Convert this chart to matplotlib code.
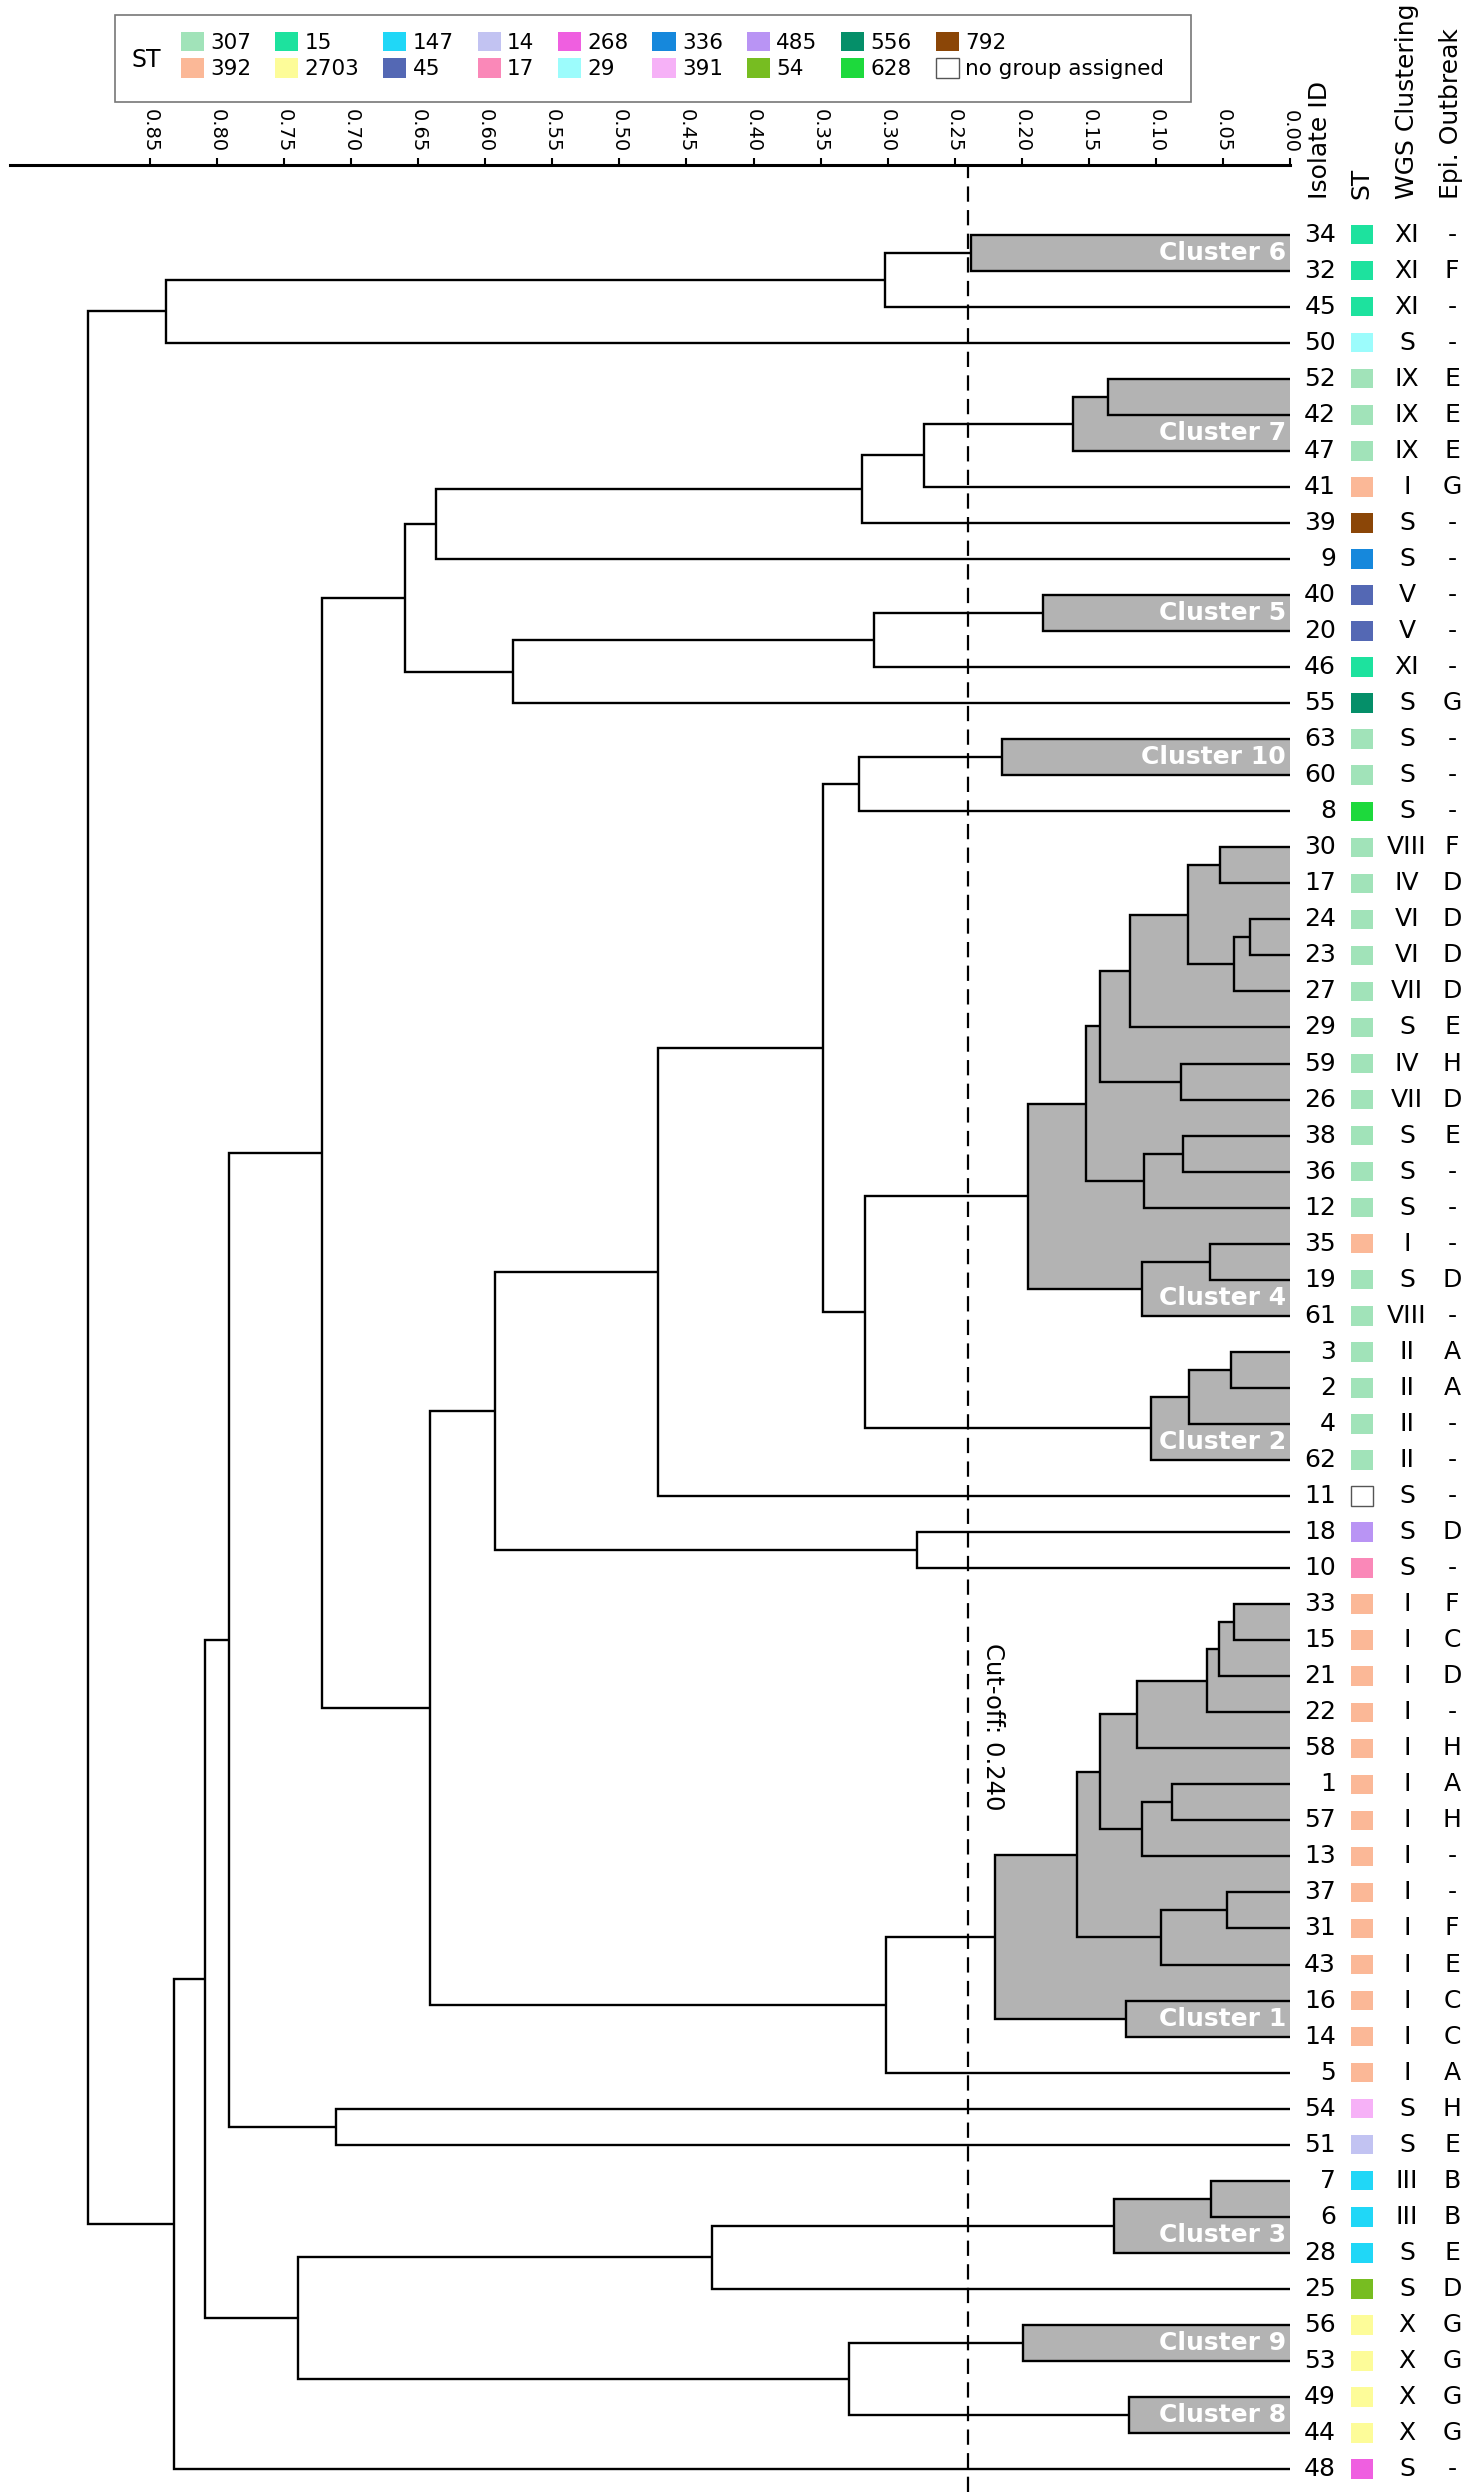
"""
WGS 聚类树状图（带ST、WGS分组与流行病学暴发标注）
"""

import numpy as np
import matplotlib.pyplot as plt
from matplotlib.patches import Rectangle, Patch

plt.rcParams['font.family'] = ['DejaVu Sans']
plt.rcParams['lines.scale_dashes'] = False

# 叶节点（从上到下）
isolate_ids = ['34', '32', '45', '50', '52', '42', '47', '41', '39', '9', '40', '20', '46', '55',
               '63', '60', '8', '30', '17', '24', '23', '27', '29', '59', '26', '38', '36', '12',
               '35', '19', '61', '3', '2', '4', '62', '11', '18', '10', '33', '15', '21', '22',
               '58', '1', '57', '13', '37', '31', '43', '16', '14', '5', '54', '51', '7', '6',
               '28', '25', '56', '53', '49', '44', '48']
st_types = ['15', '15', '15', '29', '307', '307', '307', '392', '792', '336', '45', '45', '15', '556',
            '307', '307', '628', '307', '307', '307', '307', '307', '307', '307', '307', '307', '307', '307',
            '392', '307', '307', '307', '307', '307', '307', 'none', '485', '17', '392', '392', '392', '392',
            '392', '392', '392', '392', '392', '392', '392', '392', '392', '392', '391', '14', '147', '147',
            '147', '54', '2703', '2703', '2703', '2703', '268']
wgs_groups = ['XI', 'XI', 'XI', 'S', 'IX', 'IX', 'IX', 'I', 'S', 'S', 'V', 'V', 'XI', 'S',
              'S', 'S', 'S', 'VIII', 'IV', 'VI', 'VI', 'VII', 'S', 'IV', 'VII', 'S', 'S', 'S',
              'I', 'S', 'VIII', 'II', 'II', 'II', 'II', 'S', 'S', 'S', 'I', 'I', 'I', 'I',
              'I', 'I', 'I', 'I', 'I', 'I', 'I', 'I', 'I', 'I', 'S', 'S', 'III', 'III',
              'S', 'S', 'X', 'X', 'X', 'X', 'S']
epi_outbreaks = ['-', 'F', '-', '-', 'E', 'E', 'E', 'G', '-', '-', '-', '-', '-', 'G',
                 '-', '-', '-', 'F', 'D', 'D', 'D', 'D', 'E', 'H', 'D', 'E', '-', '-',
                 '-', 'D', '-', 'A', 'A', '-', '-', '-', 'D', '-', 'F', 'C', 'D', '-',
                 'H', 'A', 'H', '-', '-', 'F', 'E', 'C', 'C', 'A', 'H', 'E', 'B', 'B',
                 'E', 'D', 'G', 'G', 'G', 'G', '-']

# 合并记录: (节点名, 上子节点, 下子节点, 距离)
merges = [
    ('c6', '34', '32', 0.238), ('n2', 'c6', '45', 0.302), ('n3', 'n2', '50', 0.838),
    ('c7a', '52', '42', 0.136), ('c7', 'c7a', '47', 0.162), ('n4', 'c7', '41', 0.273),
    ('n5', 'n4', '39', 0.319), ('n6', 'n5', '9', 0.637),
    ('c5', '40', '20', 0.184), ('n7', 'c5', '46', 0.310), ('n8', 'n7', '55', 0.579),
    ('n9', 'n6', 'n8', 0.660),
    ('c10', '63', '60', 0.215), ('n10', 'c10', '8', 0.321),
    ('a1', '30', '17', 0.052), ('a2', '24', '23', 0.030), ('a3', 'a2', '27', 0.042),
    ('a4', 'a1', 'a3', 0.076), ('a5', 'a4', '29', 0.119), ('a6', '59', '26', 0.081),
    ('a7', 'a5', 'a6', 0.142), ('a8', '38', '36', 0.080), ('a9', 'a8', '12', 0.109),
    ('a10', 'a7', 'a9', 0.152), ('a11', '35', '19', 0.060), ('a12', 'a11', '61', 0.110),
    ('c4', 'a10', 'a12', 0.195),
    ('b1', '3', '2', 0.044), ('b2', 'b1', '4', 0.075), ('c2', 'b2', '62', 0.104),
    ('n11', 'c4', 'c2', 0.317), ('n12', 'n10', 'n11', 0.348), ('n13', 'n12', '11', 0.471),
    ('d1', '18', '10', 0.278), ('n14', 'n13', 'd1', 0.593),
    ('e1', '33', '15', 0.042), ('e2', 'e1', '21', 0.053), ('e3', 'e2', '22', 0.062),
    ('e4', 'e3', '58', 0.114), ('e5', '1', '57', 0.088), ('e6', 'e5', '13', 0.110),
    ('e7', 'e4', 'e6', 0.142), ('e8', '37', '31', 0.047), ('e9', 'e8', '43', 0.096),
    ('e10', 'e7', 'e9', 0.159), ('e11', '16', '14', 0.122), ('c1', 'e10', 'e11', 0.220),
    ('n15', 'c1', '5', 0.301), ('n16', 'n14', 'n15', 0.641), ('n17', 'n9', 'n16', 0.722),
    ('f1', '54', '51', 0.711), ('n18', 'n17', 'f1', 0.791),
    ('g1', '7', '6', 0.059), ('c3', 'g1', '28', 0.131), ('n19', 'c3', '25', 0.431),
    ('c9', '56', '53', 0.199), ('c8', '49', '44', 0.120), ('n20', 'c9', 'c8', 0.329),
    ('n21', 'n19', 'n20', 0.740), ('n22', 'n18', 'n21', 0.809), ('n23', 'n22', '48', 0.832),
    ('root', 'n3', 'n23', 0.896),
]

cluster_roots = ['c1', 'c2', 'c3', 'c4', 'c5', 'c6', 'c7', 'c8', 'c9', 'c10']
cluster_labels = ['Cluster 1', 'Cluster 2', 'Cluster 3', 'Cluster 4', 'Cluster 5',
                  'Cluster 6', 'Cluster 7', 'Cluster 8', 'Cluster 9', 'Cluster 10']

legend_st = ['307', '392', '15', '2703', '147', '45', '14', '17', '268', '29',
             '336', '391', '485', '54', '556', '628', '792', 'none']
st_colors = {
    '307': '#a1e3b9', '392': '#fbb897', '15': '#1de29e', '2703': '#fdfc99',
    '147': '#20d7f7', '45': '#5468b4', '14': '#c2c3f2', '17': '#fa88b8',
    '268': '#ef5fe0', '29': '#9cfcfc', '336': '#1688dc', '391': '#f6b1f7',
    '485': '#b994f4', '54': '#77bd21', '556': '#058f69', '628': '#1dd93c',
    '792': '#8b4607', 'none': '#ffffff',
}

cutoff = 0.240
xticks = np.round(np.arange(0, 0.851, 0.05), 2)

# 画布
W, H = 1474, 2492
ax_left, ax_width = 10, 1280
fig = plt.figure(figsize=(W / 100, H / 100), dpi=100)
ax = fig.add_axes([ax_left / W, 0, ax_width / W, 1 - 165 / H])


def px_to_axes(px):
    """像素横坐标 -> 坐标轴比例坐标"""
    return (px - ax_left) / ax_width


# 节点坐标
pos = {iid: float(i) for i, iid in enumerate(isolate_ids)}
height = {iid: 0.0 for iid in isolate_ids}
children = {}
for name, a, b, h in merges:
    pos[name] = (pos[a] + pos[b]) / 2
    height[name] = h
    children[name] = (a, b)


def internal_nodes(node):
    """返回子树中所有内部节点"""
    if node not in children:
        return []
    a, b = children[node]
    return [node] + internal_nodes(a) + internal_nodes(b)


def bottom_leaf(node):
    while node in children:
        node = children[node][1]
    return node


# 聚类灰色底块
for root, label in zip(cluster_roots, cluster_labels):
    for node in internal_nodes(root):
        a, b = children[node]
        ax.add_patch(Rectangle((0, pos[a]), height[node], pos[b] - pos[a],
                               facecolor='#b3b3b3', edgecolor='none', zorder=1))
    ax.text(0.003, pos[bottom_leaf(root)] - 0.5, label, color='white', fontsize=18,
            fontweight='bold', ha='right', va='center', zorder=4)

# 树枝
for name, a, b, h in merges:
    ax.plot([height[a], h, h, height[b]], [pos[a], pos[a], pos[b], pos[b]],
            color='black', lw=1.7, solid_joinstyle='miter', solid_capstyle='butt', zorder=3)

# 截断线
ax.axvline(cutoff, color='black', lw=1.6, dashes=(11, 6), zorder=2)
ax.text(cutoff - 0.0095, 41.4, f'Cut-off: {cutoff:.3f}', rotation=-90, fontsize=17.5,
        ha='left', va='center')

# 坐标轴
ax.set_xlim(ax_width / 1341.2, 0)
ax.set_ylim((H - 234.6) / 36.04, (165 - 234.6) / 36.04)
ax.xaxis.tick_top()
ax.set_xticks(xticks)
ax.set_xticklabels([f'{t:.2f}' for t in xticks], rotation=-90, fontsize=14)
ax.tick_params(axis='x', direction='out', length=5, width=1.5, pad=4)
ax.set_yticks([])
for side in ['left', 'right', 'bottom']:
    ax.spines[side].set_visible(False)
ax.spines['top'].set_linewidth(2.2)

# 右侧标注列
tr = ax.get_yaxis_transform()
col_id, col_st, col_wgs, col_epi = [px_to_axes(p) for p in (1336, 1362, 1407, 1452)]
sq_w = 22.6 / ax_width
for i, (iid, st, wgs, epi) in enumerate(zip(isolate_ids, st_types, wgs_groups, epi_outbreaks)):
    ax.text(col_id, i, iid, transform=tr, fontsize=18, ha='right', va='center')
    ax.add_patch(Rectangle((col_st - sq_w / 2, i - 0.27), sq_w, 0.54, transform=tr,
                           facecolor=st_colors[st],
                           edgecolor='#555555' if st == 'none' else 'none',
                           lw=1.0, clip_on=False))
    ax.text(col_wgs, i, wgs, transform=tr, fontsize=18, ha='center', va='center')
    ax.text(col_epi, i, epi, transform=tr, fontsize=18, ha='center', va='center')

headers = ['Isolate ID', 'ST', 'WGS Clustering', 'Epi. Outbreak']
header_px = [1320, 1361, 1407, 1451]
for hp, htxt in zip(header_px, headers):
    ax.text(px_to_axes(hp), -0.98, htxt, transform=tr, fontsize=18, rotation=90,
            ha='center', va='bottom')

# 图例
handles = [Patch(facecolor=st_colors[s], edgecolor='#555555' if s == 'none' else 'none',
                 lw=1.0) for s in legend_st]
labels = ['no group assigned' if s == 'none' else s for s in legend_st]
fig.legend(handles, labels, ncol=9, loc='upper left',
           bbox_to_anchor=(181 / W, 1 - 32 / H), frameon=False, fontsize=15.5,
           handlelength=1.07, handleheight=1.0, handletextpad=0.3,
           columnspacing=1.1, labelspacing=0.25, borderpad=0, borderaxespad=0)
fig.patches.append(Rectangle((115 / W, 1 - 102 / H), 1076 / W, 87 / H,
                             transform=fig.transFigure, facecolor='white',
                             edgecolor='#777777', lw=1.2, zorder=0))
fig.text(146 / W, 1 - 60 / H, 'ST', fontsize=17, ha='center', va='center')

fig.savefig('out.png', dpi=100)
